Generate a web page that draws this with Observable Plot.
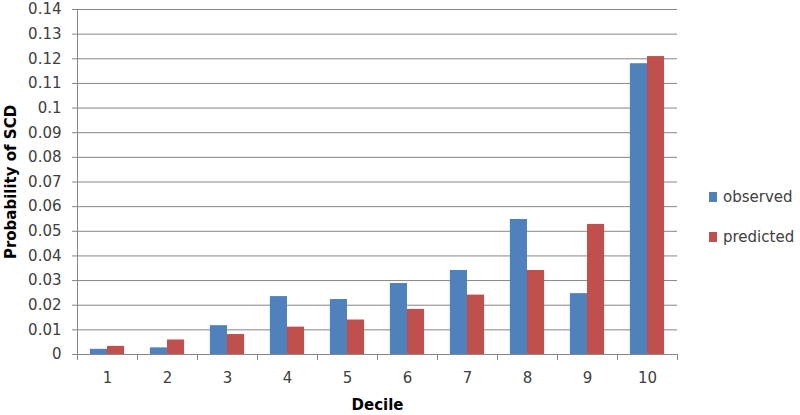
<!DOCTYPE html>
<html>
<head>
<meta charset="utf-8">
<script src="https://cdn.jsdelivr.net/npm/d3@7"></script>
<script src="https://cdn.jsdelivr.net/npm/@observablehq/plot@0.6"></script>
<style>
  html, body { margin: 0; padding: 0; background: #fff; }
  #wrap { position: relative; width: 800px; height: 415px; }
  .legend { position: absolute; left: 709px; font-family: "DejaVu Sans", sans-serif; font-size: 15px; color: #404040; display: flex; align-items: center; }
  .legend span.sw { display: inline-block; width: 8px; height: 10px; margin-right: 6px; }
</style>
</head>
<body>
<div id="wrap"></div>
<script>
const deciles = [1, 2, 3, 4, 5, 6, 7, 8, 9, 10];
const observed = [0.0021, 0.0027, 0.0117, 0.0235, 0.0223, 0.0288, 0.0341, 0.0548, 0.0247, 0.118];
const predicted = [0.0033, 0.0059, 0.0081, 0.0111, 0.014, 0.0183, 0.0241, 0.0341, 0.0528, 0.1209];
const seriesNames = ["observed", "predicted"];
const seriesColors = ["#4F81BD", "#C0504D"];
const yTicks = [0, 0.01, 0.02, 0.03, 0.04, 0.05, 0.06, 0.07, 0.08, 0.09, 0.1, 0.11, 0.12, 0.13, 0.14];

const rows = [];
deciles.forEach((d, i) => {
  rows.push({decile: d, series: "observed", value: observed[i]});
  rows.push({decile: d, series: "predicted", value: predicted[i]});
});
const half = 0.285;
const boundaries = deciles.map(d => d - 0.5).concat([deciles[deciles.length - 1] + 0.5]);

const chart = Plot.plot({
  width: 800,
  height: 415,
  marginLeft: 77,
  marginRight: 123,
  marginTop: 9,
  marginBottom: 61,
  style: {fontFamily: "DejaVu Sans, sans-serif", fontSize: "15px", color: "#404040", background: "#fff"},
  x: {type: "linear", domain: [0.5, 10.5]},
  y: {domain: [0, 0.14]},
  color: {domain: seriesNames, range: seriesColors},
  marks: [
    Plot.gridY(yTicks, {stroke: "#868686", strokeOpacity: 1}),
    Plot.rectY(rows, {
      x1: d => d.series === "observed" ? d.decile - half : d.decile,
      x2: d => d.series === "observed" ? d.decile : d.decile + half,
      y1: 0,
      y2: "value",
      fill: "series"
    }),
    Plot.ruleY([0], {stroke: "#868686"}),
    Plot.ruleX([0.5], {stroke: "#868686"}),
    Plot.axisY({ticks: yTicks, tickSize: 5, tickPadding: 11, stroke: "#868686", fill: "#404040", tickFormat: d => String(d),
      label: "Probability of SCD", labelAnchor: "center", labelArrow: "none", labelOffset: 72}),
    Plot.axisX({ticks: boundaries, tickSize: 6, tickFormat: () => "", stroke: "#868686", label: null}),
    Plot.axisX({ticks: deciles, tickSize: 0, tickPadding: 18, fill: "#404040", tickFormat: d => String(d),
      label: "Decile", labelAnchor: "center", labelArrow: "none", labelOffset: 55})
  ]
});
d3.select(chart).selectAll("[aria-label='y-axis label'] text, [aria-label='x-axis label'] text").attr("font-weight", "bold").attr("fill", "#000");
const wrap = document.getElementById("wrap");
wrap.appendChild(chart);
const tops = [188, 228];
seriesNames.forEach((s, i) => {
  const div = document.createElement("div");
  div.className = "legend";
  div.style.top = tops[i] + "px";
  div.innerHTML = `<span class="sw" style="background:${seriesColors[i]}"></span>${s}`;
  wrap.appendChild(div);
});
</script>
</body>
</html>
